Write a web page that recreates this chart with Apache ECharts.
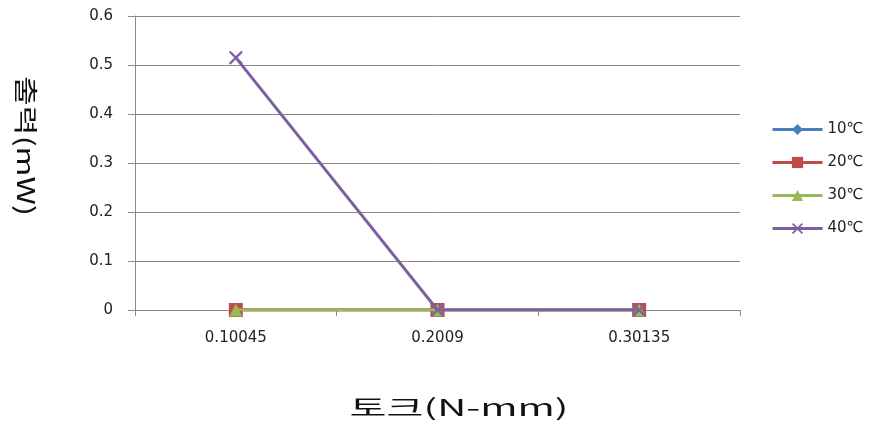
<!DOCTYPE html>
<html>
<head>
<meta charset="utf-8">
<script src="https://cdn.jsdelivr.net/npm/echarts@6/dist/echarts.min.js"></script>
<style>
  html, body { margin: 0; padding: 0; background: #fff; }
  #chart { width: 874px; height: 426px; }
</style>
</head>
<body>
<div id="chart"></div>
<script>
// Torque categories (N-mm) and power output (mW) per temperature
const torque = ['0.10045', '0.2009', '0.30135'];
const temp10 = [0, 0, 0];
const temp20 = [0, 0, 0];
const temp30 = [0, 0, 0];
const temp40 = [0.515, 0, 0];
const seriesNames = ['10℃', '20℃', '30℃', '40℃'];
const yTicks = [0, 0.1, 0.2, 0.3, 0.4, 0.5, 0.6];
const xTitle = '토크(N-mm)';
const yTitle = '출력(mW)';

const chart = echarts.init(document.getElementById('chart'));
const cjk = '"Noto Sans CJK KR", "Noto Sans", sans-serif';
const latin = '"DejaVu Sans", "Noto Sans CJK KR", sans-serif';

// thin "x" marker as a filled outline
const crossPath = 'path://M0,1.6 L1.6,0 L7,5.4 L12.4,0 L14,1.6 L8.6,7 L14,12.4 L12.4,14 L7,8.6 L1.6,14 L0,12.4 L5.4,7 Z';

function lineSeries(name, data, color, symbol, size, z) {
  return {
    name: name,
    type: 'line',
    data: data,
    symbol: symbol,
    symbolSize: size,
    showSymbol: true,
    lineStyle: { color: color, width: 3 },
    itemStyle: { color: color },
    z: z
  };
}

chart.setOption({
  animation: false,
  backgroundColor: '#ffffff',
  grid: { left: 135, right: 134, top: 16, bottom: 116 },
  legend: {
    orient: 'vertical',
    left: 766,
    top: 117,
    itemWidth: 50,
    itemHeight: 14,
    itemGap: 18,
    lineStyle: { width: 3 },
    textStyle: { fontFamily: latin, fontSize: 15, color: '#222' },
    data: seriesNames
  },
  graphic: [
    {
      type: 'text',
      x: 459, y: 407,
      style: { text: xTitle, font: '23px ' + cjk, fill: '#111', align: 'center', verticalAlign: 'middle' },
      scaleX: 1.75
    },
    {
      type: 'text',
      x: 26, y: 146,
      rotation: -Math.PI / 2,
      style: { text: yTitle, font: '24px ' + cjk, fill: '#111', align: 'center', verticalAlign: 'middle' },
      scaleX: 1.35
    }
  ],
  xAxis: {
    type: 'category',
    data: torque,
    boundaryGap: true,
    axisLine: { lineStyle: { color: '#8a8a8a', width: 1 } },
    axisTick: { show: true, length: 6, lineStyle: { color: '#8a8a8a' } },
    axisLabel: { fontFamily: latin, fontSize: 15, color: '#222', margin: 21 },
    splitLine: { show: false }
  },
  yAxis: {
    type: 'value',
    min: yTicks[0],
    max: yTicks[yTicks.length - 1],
    interval: 0.1,
    axisLine: { show: true, lineStyle: { color: '#8a8a8a', width: 1 } },
    axisTick: { show: true, length: 7, lineStyle: { color: '#8a8a8a' } },
    axisLabel: { fontFamily: latin, fontSize: 15, color: '#222', margin: 22,
      formatter: v => String(Math.round(v * 10) / 10) },
    splitLine: { show: true, lineStyle: { color: '#8a8a8a', width: 1 } }
  },
  series: [
    lineSeries(seriesNames[0], temp10, '#4a7ebb', 'diamond', 11, 2),
    lineSeries(seriesNames[1], temp20, '#be4b48', 'rect', 14, 3),
    lineSeries(seriesNames[2], temp30, '#98b954', 'triangle', 13, 4),
    lineSeries(seriesNames[3], temp40, '#7d60a0', crossPath, 14, 5)
  ]
});
</script>
</body>
</html>
